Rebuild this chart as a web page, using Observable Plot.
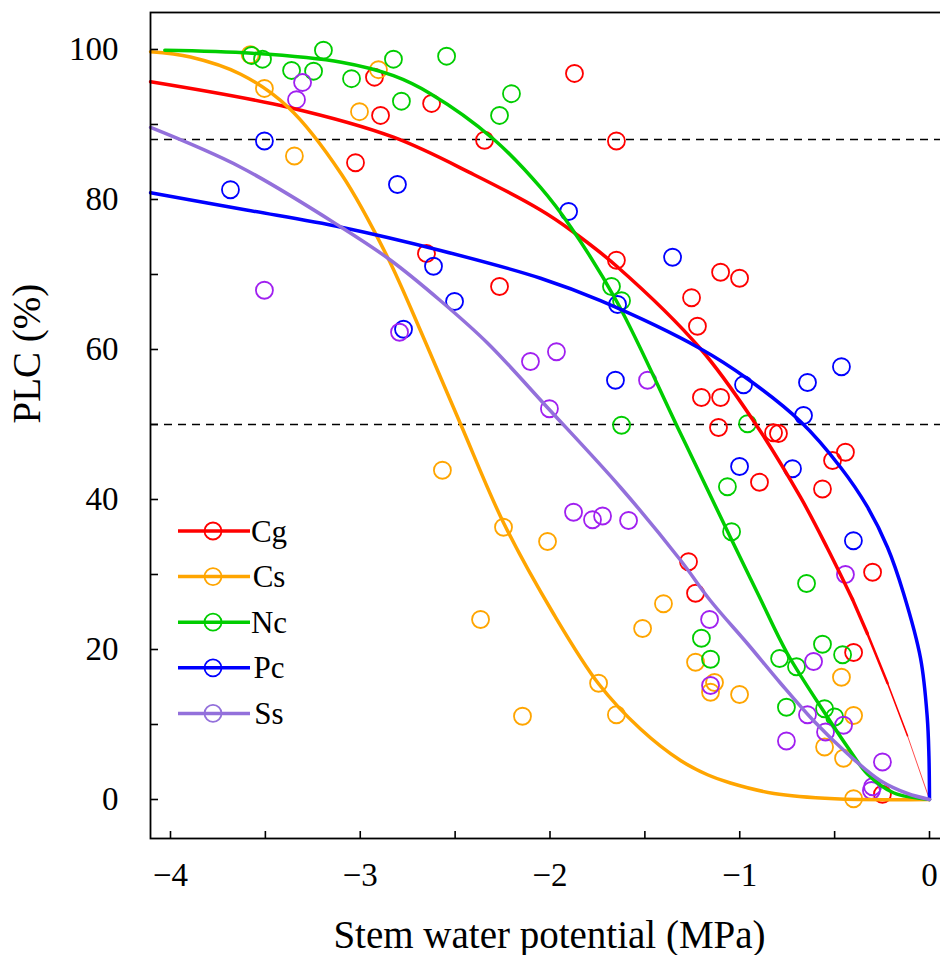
<!DOCTYPE html>
<html>
<head>
<meta charset="utf-8">
<script src="https://cdn.jsdelivr.net/npm/d3@7"></script>
<script src="https://cdn.jsdelivr.net/npm/@observablehq/plot@0.6"></script>
<style>
  body { margin: 0; background: #fff; }
  #chart { width: 940px; height: 955px; overflow: hidden; }
</style>
</head>
<body>
<div id="chart"></div>
<script>
// ---- Categories & colours ----
const species = ["Cg", "Cs", "Nc", "Pc", "Ss"];
const lineColors = ["#FF0000", "#FFA500", "#00CD00", "#0000FF", "#9370DB"];
const pointColors = ["#FF0000", "#FFA500", "#00CD00", "#0000FF", "#A020F0"];

// ---- Observed points (stem water potential MPa, PLC %) ----
const cgPsi = [-2.925, -2.893, -2.624, -2.345, -3.025, -2.651, -2.266, -1.871, -1.65, -1.65, -1.101, -1.001, -1.254, -1.223, -1.202, -1.101, -1.112, -0.822, -0.796, -0.511, -0.443, -0.896, -0.564, -1.27, -0.30, -1.233, -0.40, -0.248];
const cgPLC = [96.3, 91.2, 92.8, 87.9, 84.9, 72.8, 68.4, 96.8, 87.8, 71.9, 70.3, 69.5, 66.9, 63.1, 53.6, 53.6, 49.6, 48.9, 48.8, 45.2, 46.3, 42.3, 41.4, 31.7, 30.3, 27.5, 19.6, 0.7];

const csPsi = [-3.58, -3.505, -3.004, -2.904, -3.347, -2.567, -2.245, -2.366, -2.145, -2.013, -1.402, -1.512, -1.233, -0.464, -1.133, -1.154, -1.001, -1.744, -1.65, -0.40, -0.553, -0.453, -0.40];
const csPLC = [99.3, 94.8, 91.7, 97.3, 85.8, 43.9, 36.3, 24.0, 11.1, 34.4, 26.1, 22.8, 18.3, 16.3, 15.6, 14.3, 14.0, 15.5, 11.3, 11.2, 7.0, 5.5, 0.1];

const ncPsi = [-3.573, -3.515, -3.362, -3.246, -3.194, -3.046, -2.825, -2.783, -2.545, -2.203, -2.266, -1.676, -1.623, -1.623, -0.959, -1.065, -1.043, -0.648, -1.202, -0.564, -0.458, -1.154, -0.79, -0.701, -0.754, -0.553, -0.50];
const ncPLC = [99.2, 98.7, 97.2, 97.1, 99.9, 96.1, 98.7, 93.1, 99.1, 94.1, 91.2, 68.4, 66.5, 49.9, 50.1, 41.7, 35.7, 28.8, 21.5, 20.7, 19.3, 18.7, 18.8, 17.7, 12.3, 12.1, 11.0];

const pcPsi = [-3.505, -3.684, -2.804, -2.614, -2.503, -2.772, -1.902, -1.354, -1.644, -1.655, -0.98, -0.643, -0.464, -0.664, -1.001, -0.722, -0.401];
const pcPLC = [87.8, 81.3, 82.0, 71.1, 66.4, 62.7, 78.4, 72.3, 66.0, 55.9, 55.3, 55.6, 57.7, 51.2, 44.4, 44.1, 34.5];

const ssPsi = [-3.304, -3.336, -3.505, -2.793, -2.103, -1.966, -1.486, -2.003, -1.876, -1.776, -1.723, -1.586, -0.443, -1.159, -0.611, -1.154, -0.643, -0.453, -0.548, -0.754, -0.248, -0.30, -0.306];
const ssPLC = [95.6, 93.3, 67.9, 62.3, 58.4, 59.7, 55.9, 52.1, 38.3, 37.3, 37.8, 37.2, 30.0, 24.0, 18.4, 15.2, 11.3, 9.9, 9.0, 7.8, 5.0, 1.7, 1.2];

// ---- Fitted vulnerability curves ----
const cgCurvePsi = [-4.105, -3.38, -2.825, -2.40, -2.05, -1.89, -1.644, -1.207, -0.928, -0.68, -0.538, -0.406, -0.327, -0.221, -0.116, 0];
const cgCurvePLC = [95.7, 92.3, 88.3, 83.3, 78.6, 75.9, 71.0, 60.1, 50.5, 40.3, 33.5, 26.7, 22.1, 15.5, 8.5, 0];

const csCurvePsi = [-4.105, -3.895, -3.63, -3.38, -3.10, -2.856, -2.667, -2.472, -2.243, -1.98, -1.743, -1.523, -1.312, -1.17, -1.049, -0.82, -0.5, 0];
const csCurvePLC = [99.7, 99.0, 96.7, 92.3, 83.4, 72.3, 61.6, 50.1, 36.8, 24.7, 15.4, 9.4, 5.2, 3.3, 2.2, 0.8, 0.1, 0];

const ncCurvePsi = [-4.03, -3.57, -3.10, -2.825, -2.63, -2.30, -2.05, -1.89, -1.646, -1.312, -1.05, -0.90, -0.75, -0.538, -0.432, -0.327, -0.19, 0];
const ncCurvePLC = [99.9, 99.5, 98.3, 96.5, 94.1, 88.1, 81.6, 76.3, 66.3, 48.8, 35.0, 27.2, 19.5, 11.0, 7.0, 3.4, 0.9, 0];

const pcCurvePsi = [-4.105, -3.6, -3.10, -2.577, -2.05, -1.734, -1.207, -0.96, -0.68, -0.469, -0.327, -0.221, -0.137, -0.047, -0.012, -0.003, 0];
const pcCurvePLC = [80.9, 78.6, 76.3, 73.2, 69.5, 66.5, 60.1, 56.1, 50.4, 44.3, 39.0, 33.6, 27.5, 18.8, 11.0, 5.8, 0];

const ssCurvePsi = [-4.105, -3.63, -3.10, -2.84, -2.577, -2.331, -2.015, -1.628, -1.312, -1.154, -0.96, -0.785, -0.611, -0.432, -0.258, -0.116, 0];
const ssCurvePLC = [89.6, 84.3, 76.3, 71.9, 66.5, 60.9, 52.3, 41.6, 31.9, 26.5, 20.8, 15.5, 10.5, 6.1, 2.5, 0.8, 0];

// Cg curve tapers (thins out) over its last segments towards 0 MPa
const cgTailStart = -0.406;
const cgTailWidths = [3.3, 2.5, 1.6, 0.7];

// ---- Reference levels & ticks ----
const dashedLevels = [88, 50];
const xMinorTicks = [-4, -3.5, -3, -2.5, -2, -1.5, -1, -0.5, 0];
const xLabelTicks = [-4, -3, -2, -1, 0];
const yMinorTicks = [0, 10, 20, 30, 40, 50, 60, 70, 80, 90, 100];
const yLabelTicks = [0, 20, 40, 60, 80, 100];
const xTitle = "Stem water potential (MPa)";
const yTitle = "PLC (%)";

// ---- Build tables ----
const obsPsi = [cgPsi, csPsi, ncPsi, pcPsi, ssPsi];
const obsPLC = [cgPLC, csPLC, ncPLC, pcPLC, ssPLC];
const curPsi = [cgCurvePsi, csCurvePsi, ncCurvePsi, pcCurvePsi, ssCurvePsi];
const curPLC = [cgCurvePLC, csCurvePLC, ncCurvePLC, pcCurvePLC, ssCurvePLC];

const points = species.flatMap((s, i) => obsPsi[i].map((x, j) => ({species: s, psi: x, plc: obsPLC[i][j], color: pointColors[i]})));
const curves = species.flatMap((s, i) => curPsi[i].map((x, j) => ({species: s, psi: x, plc: curPLC[i][j], color: lineColors[i]})));

// Cg: main body up to tail start, then tapered segments
const cgRows = curves.filter(d => d.species === "Cg");
const cgMain = cgRows.filter(d => d.psi <= cgTailStart);
const cgTail = cgRows.filter(d => d.psi >= cgTailStart);
const otherCurves = curves.filter(d => d.species !== "Cg");
const tailMarks = cgTail.slice(0, -1).map((d, k) =>
  Plot.line([d, cgTail[k + 1]], {x: "psi", y: "plc", stroke: lineColors[0], strokeWidth: cgTailWidths[k] ?? 0.6, strokeLinecap: "round"})
);

const FONT = "'Liberation Serif', 'Times New Roman', Times, serif";
const intFmt = d3.format("d");

const plot = Plot.plot({
  width: 942,
  height: 955,
  marginLeft: 150,
  marginRight: 0,
  marginTop: 12,
  marginBottom: 117,
  x: {domain: [-4.1054, 0.0685], label: null},
  y: {domain: [-5.2, 104.93], label: null},
  style: {fontFamily: FONT, background: "white", color: "black"},
  marks: [
    Plot.ruleY(dashedLevels, {stroke: "black", strokeWidth: 1.5, strokeDasharray: "8,6"}),
    Plot.dot(points, {x: "psi", y: "plc", stroke: "color", r: 8.5, strokeWidth: 1.8, fill: "none"}),
    Plot.line(cgMain, {x: "psi", y: "plc", stroke: lineColors[0], strokeWidth: 3.5, curve: "catmull-rom"}),
    ...tailMarks,
    Plot.line(otherCurves, {x: "psi", y: "plc", z: "species", stroke: "color", strokeWidth: 3.5, curve: "catmull-rom"}),
    Plot.frame({stroke: "black", strokeWidth: 1.8}),
    Plot.axisX(xMinorTicks, {tickSize: 7, dy: -7, tickFormat: () => "", strokeWidth: 1.6, stroke: "black", label: null}),
    Plot.axisX(xLabelTicks, {tickSize: 0, tickPadding: 24, fontSize: 33, fill: "black", tickFormat: intFmt, label: null}),
    Plot.axisY(yMinorTicks, {tickSize: 8, dx: 8, tickFormat: () => "", strokeWidth: 1.6, stroke: "black", label: null}),
    Plot.axisY(yLabelTicks, {tickSize: 0, tickPadding: 32, fontSize: 33, fill: "black", tickFormat: intFmt, label: null}),
    Plot.text([xTitle], {text: d => d, frameAnchor: "bottom", dy: 97, dx: 3, fontSize: 39, fill: "black", lineAnchor: "middle"}),
    Plot.text([yTitle], {text: d => d, frameAnchor: "left", dx: -123, dy: -2, rotate: -90, fontSize: 39, fill: "black", lineAnchor: "middle"})
  ]
});
plot.style.maxWidth = "none";

// ---- Legend (inside plot, lower left) ----
const svg = d3.select(plot);
const lg = svg.append("g").attr("font-family", FONT);
species.forEach((s, i) => {
  const y = 531 + i * 45.6;
  lg.append("line").attr("x1", 178).attr("x2", 250).attr("y1", y).attr("y2", y)
    .attr("stroke", lineColors[i]).attr("stroke-width", 3.5);
  lg.append("circle").attr("cx", 213).attr("cy", y).attr("r", 8.5)
    .attr("fill", "none").attr("stroke", lineColors[i]).attr("stroke-width", 1.8);
  lg.append("text").attr("x", 269).attr("y", y).attr("dy", "0.34em")
    .attr("font-size", 31).attr("fill", "black").text(s);
});

document.getElementById("chart").appendChild(plot);
</script>
</body>
</html>
